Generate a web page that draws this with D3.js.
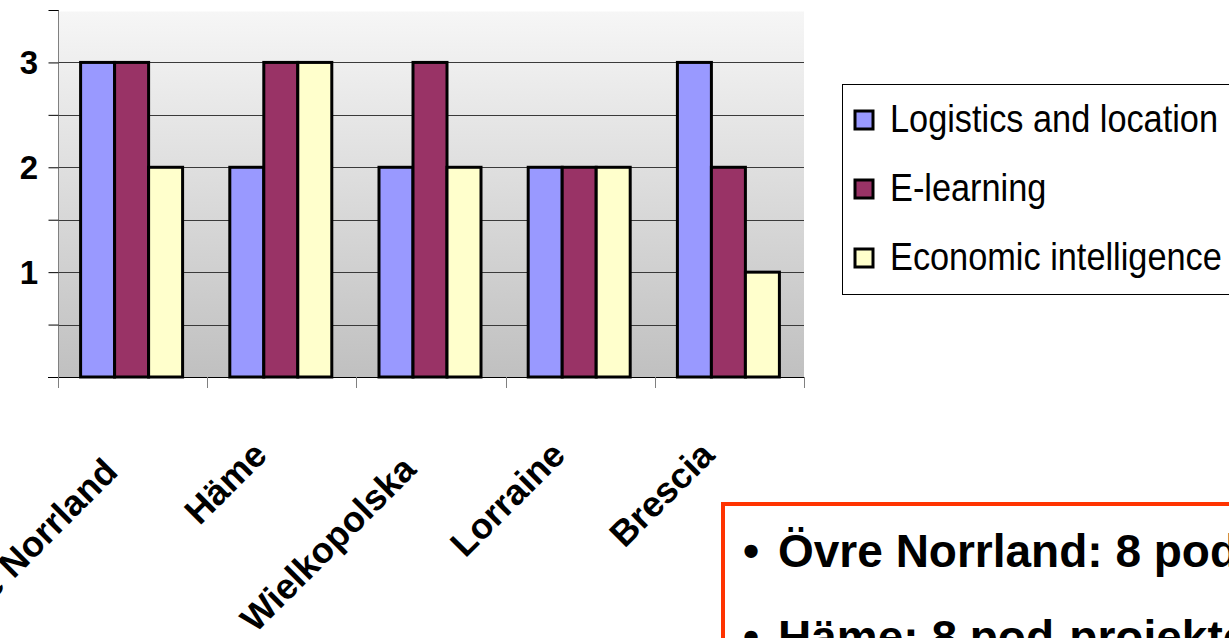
<!DOCTYPE html>
<html>
<head>
<meta charset="utf-8">
<script src="https://cdn.jsdelivr.net/npm/d3@7"></script>
<style>
  html, body { margin: 0; padding: 0; background: #fff; overflow: hidden; }
  svg { display: block; font-family: "Liberation Sans", Arial, sans-serif; }
  .ylab { font-size: 33px; font-weight: bold; }
  .xlab { font-size: 36px; font-weight: bold; }
  .legend-label { font-size: 39px; }
  .note { font-size: 46px; font-weight: bold; }
</style>
</head>
<body>
<div id="chart"></div>
<script>
// Regions and project counts per thematic area
const categories = ["Övre Norrland", "Häme", "Wielkopolska", "Lorraine", "Brescia"];
const seriesNames = ["Logistics and location", "E-learning", "Economic intelligence"];
const logistics = [3, 2, 2, 2, 3];
const elearning = [3, 3, 3, 2, 2];
const economic = [2, 3, 2, 2, 1];
const yLabels = [1, 2, 3];
const gridValues = [0.5, 1, 1.5, 2, 2.5, 3];
const notes = ["Övre Norrland: 8 pod-projektów", "Häme: 8 pod-projektów"];

const seriesValues = [logistics, elearning, economic];
const colors = ["#9999FF", "#993366", "#FFFFCC"];

const width = 1229, height = 638;
const plot = { left: 58, right: 804, top: 10, bottom: 377 };

const svg = d3.select("#chart").append("svg")
  .attr("width", width)
  .attr("height", height);

const defs = svg.append("defs");
const grad = defs.append("linearGradient")
  .attr("id", "bg").attr("x1", 0).attr("y1", 0).attr("x2", 0).attr("y2", 1);
grad.append("stop").attr("offset", "0%").attr("stop-color", "#F6F6F6");
grad.append("stop").attr("offset", "100%").attr("stop-color", "#C0C0C0");

// SCALES
const x0 = d3.scaleBand()
  .domain(categories)
  .range([plot.left, plot.right])
  .paddingInner(0).paddingOuter(0);

const barGroup = 102;
const x1 = d3.scaleBand()
  .domain(seriesNames)
  .range([0, barGroup]);

const y = d3.scaleLinear()
  .domain([0, 3.5])
  .range([plot.bottom, plot.top]);

// PLOT BACKGROUND
svg.append("rect")
  .attr("x", plot.left + 1).attr("y", y(3.5) + 1.5)
  .attr("width", plot.right - plot.left - 1)
  .attr("height", y(0) - y(3.5) - 1.5)
  .attr("fill", "url(#bg)");

// GRIDLINES
svg.append("g")
  .selectAll("line")
  .data(gridValues)
  .join("line")
  .attr("x1", plot.left).attr("x2", plot.right)
  .attr("y1", d => Math.round(y(d)) + 0.5)
  .attr("y2", d => Math.round(y(d)) + 0.5)
  .attr("stroke", "#3a3a3a")
  .attr("stroke-width", 1);

// BARS
const groups = svg.append("g")
  .selectAll("g")
  .data(categories)
  .join("g")
  .attr("transform", d => `translate(${x0(d) + (x0.bandwidth() - barGroup) / 2 - 1},0)`);

groups.selectAll("rect")
  .data((c, i) => seriesNames.map((s, j) => ({ s, j, v: seriesValues[j][i] })))
  .join("rect")
  .attr("x", d => x1(d.s))
  .attr("y", d => y(d.v))
  .attr("width", x1.bandwidth())
  .attr("height", d => y(0) - y(d.v))
  .attr("fill", d => colors[d.j])
  .attr("stroke", "#000")
  .attr("stroke-width", 3);

// Y AXIS
const yAxis = svg.append("g")
  .attr("transform", `translate(${plot.left + 0.5},0)`)
  .call(d3.axisLeft(y).tickValues([0, ...gridValues, 3.5]).tickSize(10).tickFormat(""));
yAxis.select(".domain").attr("stroke", "#808080").attr("d", `M0,${y(3.5)}V${y(0) + 11}`);
yAxis.selectAll(".tick line").attr("stroke", "#000");

svg.append("g")
  .selectAll("text")
  .data(yLabels)
  .join("text")
  .attr("class", "ylab")
  .attr("x", 38)
  .attr("y", d => y(d))
  .attr("dy", "0.36em")
  .attr("text-anchor", "end")
  .text(d => d);

// X AXIS
const xTicks = [...categories.map(c => x0(c)), plot.right];
svg.append("line")
  .attr("x1", plot.left - 10).attr("x2", plot.right + 1)
  .attr("y1", plot.bottom + 0.5).attr("y2", plot.bottom + 0.5)
  .attr("stroke", "#000");
svg.append("g")
  .selectAll("line")
  .data(xTicks)
  .join("line")
  .attr("x1", d => Math.round(d) + 0.5).attr("x2", d => Math.round(d) + 0.5)
  .attr("y1", plot.bottom).attr("y2", plot.bottom + 11)
  .attr("stroke", "#808080");

// rotated labels; long ones sit a little lower, as in the original layout
svg.append("g")
  .selectAll("text")
  .data(categories)
  .join("text")
  .attr("class", "xlab")
  .attr("text-anchor", "end")
  .text(d => d)
  .attr("transform", function(d) {
    const len = this.getComputedTextLength();
    const dy = Math.max(0, len - 150) * 0.18;
    return `translate(${x0(d) + x0.bandwidth() / 2 - 13},${457 + dy}) rotate(-45)`;
  });

// LEGEND
const legend = svg.append("g").attr("transform", "translate(842,84)");
legend.append("rect")
  .attr("x", 0.5).attr("y", 0.5)
  .attr("width", 420).attr("height", 210)
  .attr("fill", "#fff")
  .attr("stroke", "#000").attr("stroke-width", 1);

seriesNames.forEach((s, i) => {
  const row = legend.append("g").attr("transform", `translate(0,${48 + i * 69})`);
  row.append("rect")
    .attr("x", 13).attr("y", -21)
    .attr("width", 18).attr("height", 18)
    .attr("fill", colors[i])
    .attr("stroke", "#000").attr("stroke-width", 3);
  row.append("text")
    .attr("class", "legend-label")
    .attr("transform", "translate(48,0) scale(0.88,1)")
    .text(s);
});

// NOTE BOX
const note = svg.append("g");
note.append("rect")
  .attr("x", 723).attr("y", 504)
  .attr("width", 700).attr("height", 300)
  .attr("fill", "#fff")
  .attr("stroke", "#FF3300").attr("stroke-width", 4);

notes.forEach((t, i) => {
  note.append("text")
    .attr("class", "note")
    .attr("x", 743).attr("y", 567 + i * 86)
    .text("•");
  note.append("text")
    .attr("class", "note")
    .attr("x", 778).attr("y", 567 + i * 86)
    .text(t);
});
</script>
</body>
</html>
